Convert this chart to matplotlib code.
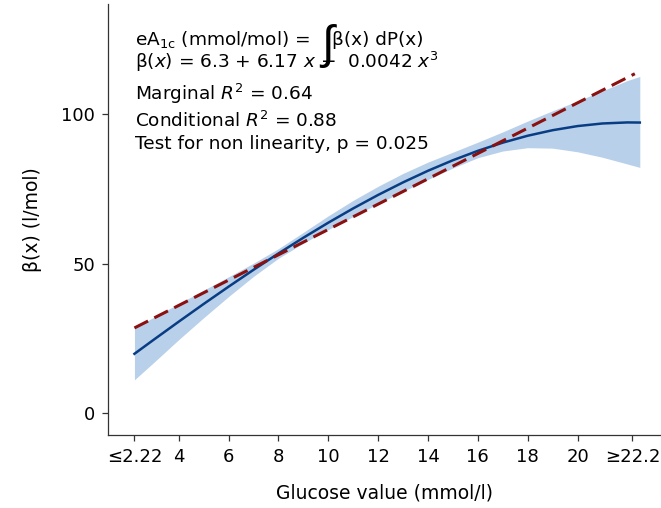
import matplotlib
matplotlib.use("Agg")
import matplotlib.pyplot as plt

plt.rcParams['font.family'] = ['DejaVu Sans']
plt.rcParams['mathtext.fontset'] = 'dejavusans'

# glucose (mmol/l) and fitted beta(x) with its band
glucose = [2.22, 3, 4, 5, 6, 7, 8, 9, 10, 11, 12, 13, 14, 15, 16, 17, 18, 19, 20, 21, 22, 22.5]
beta_fit = [19.95, 24.70, 30.71, 36.63, 42.41, 48.05, 53.51, 58.77, 63.80, 68.58, 73.08,
            77.28, 81.16, 84.68, 87.82, 90.56, 92.87, 94.72, 96.10, 96.97, 97.32, 97.28]
beta_low = [11.25, 17.1, 24.71, 32.03, 39.11, 45.85, 51.91, 56.97, 61.5, 65.88, 70.18,
            74.28, 78.26, 82.08, 85.52, 87.76, 88.87, 88.72, 87.5, 85.67, 83.42, 82.28]
beta_high = [28.55, 32.2, 36.71, 41.23, 45.71, 50.25, 55.11, 60.57, 66.1, 71.28, 75.98,
             80.28, 84.06, 87.38, 90.72, 94.16, 97.77, 101.22, 104.5, 107.87, 111.32, 112.68]

# linear reference line
lin_x = [2.22, 22.3]
lin_y = [28.6, 113.6]

xticks = [2.22, 4, 6, 8, 10, 12, 14, 16, 18, 20, 22.2]
xticklabels = ['≤2.22', '4', '6', '8', '10', '12', '14', '16', '18', '20', '≥22.2']
yticks = [0, 50, 100]

fig = plt.figure(figsize=(6.61, 5.08), dpi=100)
ax = fig.add_axes([0.1638, 0.1437, 0.8362, 0.8483])

ax.fill_between(glucose, beta_low, beta_high, color='#b9d0ea', lw=0)
ax.plot(glucose, beta_fit, color='#083d84', lw=1.8)
ax.plot(lin_x, lin_y, color='#8b1010', lw=2.2, linestyle=(0, (5, 2.3)))

ax.set_xlim(1.17, 23.35)
ax.set_ylim(-7.2, 136.9)
ax.set_xticks(xticks)
ax.set_xticklabels(xticklabels)
ax.set_yticks(yticks)
ax.tick_params(labelsize=13, length=4.3, width=0.9, color='#333333', pad=5)

for s in ['top', 'right']:
    ax.spines[s].set_visible(False)
for s in ['left', 'bottom']:
    ax.spines[s].set_color('#333333')
    ax.spines[s].set_linewidth(0.9)

ax.set_xlabel('Glucose value (mmol/l)', fontsize=13.5)
ax.xaxis.set_label_coords(0.5, -0.112)
ax.set_ylabel('β(x) (l/mol)', fontsize=13.5)
ax.yaxis.set_label_coords(-0.12, 0.5)


def px(x, y):
    # pixel position in the 661x508 picture -> data coords
    return ax.transData.inverted().transform((x, 508 - y))


fs = 13.3
ax.text(*px(135, 45), r'eA$_{\mathrm{1c}}$ (mmol/mol) =', fontsize=fs)
ax.text(*px(321, 46), '∫', fontsize=33, va='center', family='Liberation Sans')
ax.text(*px(332, 45), 'β(x) dP(x)', fontsize=fs)
ax.text(*px(135, 68), r'β($x$) = 6.3 + 6.17 $x$ −  0.0042 $x^3$', fontsize=fs)
ax.text(*px(135, 100), r'Marginal $R^2$ = 0.64', fontsize=fs)
ax.text(*px(135, 127), r'Conditional $R^2$ = 0.88', fontsize=fs)
ax.text(*px(135, 149), 'Test for non linearity, p = 0.025', fontsize=fs)

fig.savefig('out.png', dpi=100)
